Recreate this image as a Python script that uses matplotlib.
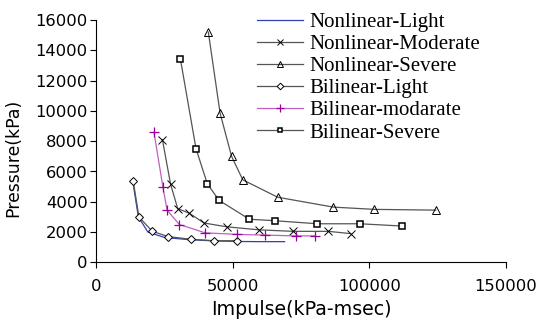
import matplotlib
matplotlib.use('Agg')
import matplotlib.pyplot as plt

# series (impulse kPa-msec, pressure kPa)
nl_light_x = [13500, 15500, 19000, 25000, 34000, 43000, 52000, 60000, 69000]
nl_light_y = [5300, 3000, 2000, 1650, 1500, 1420, 1380, 1370, 1370]

nl_mod_x = [24300, 27300, 29900, 34100, 39500, 47800, 59500, 72200, 85000, 93200]
nl_mod_y = [8100, 5150, 3550, 3250, 2600, 2350, 2150, 2050, 2050, 1900]

nl_sev_x = [41100, 45400, 49600, 53700, 66500, 86800, 101800, 124300]
nl_sev_y = [15200, 9850, 7000, 5450, 4300, 3650, 3500, 3450]

bl_light_x = [13600, 15700, 20600, 26500, 34600, 43300, 51700]
bl_light_y = [5400, 3000, 2050, 1700, 1530, 1430, 1430]

bl_mod_x = [21200, 24500, 26000, 30500, 40000, 51500, 62000, 73000, 80000]
bl_mod_y = [8600, 4950, 3450, 2500, 1950, 1850, 1800, 1750, 1750]

bl_sev_x = [30900, 36600, 40700, 45000, 56100, 65500, 81000, 96500, 112000]
bl_sev_y = [13400, 7500, 5200, 4100, 2850, 2750, 2550, 2550, 2400]

x_ticks = [0, 50000, 100000, 150000]
y_ticks = list(range(0, 16001, 2000))

fig = plt.figure(figsize=(5.53, 3.2), dpi=100)
ax = fig.add_axes([0.1736, 0.180, 0.7414, 0.7575])

grey = '#555555'
ax.plot(nl_light_x, nl_light_y, color='#3040b0', lw=0.9, label='Nonlinear-Light')
ax.plot(nl_mod_x, nl_mod_y, color=grey, lw=0.9, marker='x', ms=6, mec='black',
        mew=0.7, label='Nonlinear-Moderate')
ax.plot(nl_sev_x, nl_sev_y, color=grey, lw=0.9, marker='^', ms=6, mfc='none',
        mec='black', mew=0.7, label='Nonlinear-Severe')
ax.plot(bl_light_x, bl_light_y, color=grey, lw=0.9, marker='D', ms=4.5, mfc='white',
        mec='black', mew=0.7, label='Bilinear-Light')
ax.plot(bl_mod_x, bl_mod_y, color='#c060c0', lw=0.9, marker='+', ms=7, mec='#990099',
        mew=0.9, label='Bilinear-modarate')
ax.plot(bl_sev_x, bl_sev_y, color=grey, lw=0.9, marker='s', ms=4.5, mfc='white',
        mec='black', mew=1.1, label='Bilinear-Severe')

ax.set_xlim(0, 150000)
ax.set_ylim(0, 16000)
ax.set_xticks(x_ticks)
ax.set_yticks(y_ticks)
ax.spines['top'].set_visible(False)
ax.spines['right'].set_visible(False)
ax.tick_params(direction='out', length=4, width=0.8, labelsize=11.8)
ax.tick_params(axis='x', pad=8)
ax.tick_params(axis='y', pad=2)
ax.set_xlabel('Impulse(kPa-msec)', fontsize=13.7, labelpad=4)
ax.set_ylabel('Pressure(kPa)', fontsize=12.4)
ax.yaxis.set_label_coords(-0.179, 0.4325)

leg = ax.legend(loc='upper left', bbox_to_anchor=(0.373, 1.065), frameon=False,
                prop={'family': 'Liberation Serif', 'size': 15},
                handlelength=2.2, handletextpad=0.3, labelspacing=0.12,
                borderaxespad=0, numpoints=1, markerscale=0.75)

fig.savefig('out.png', dpi=100)
